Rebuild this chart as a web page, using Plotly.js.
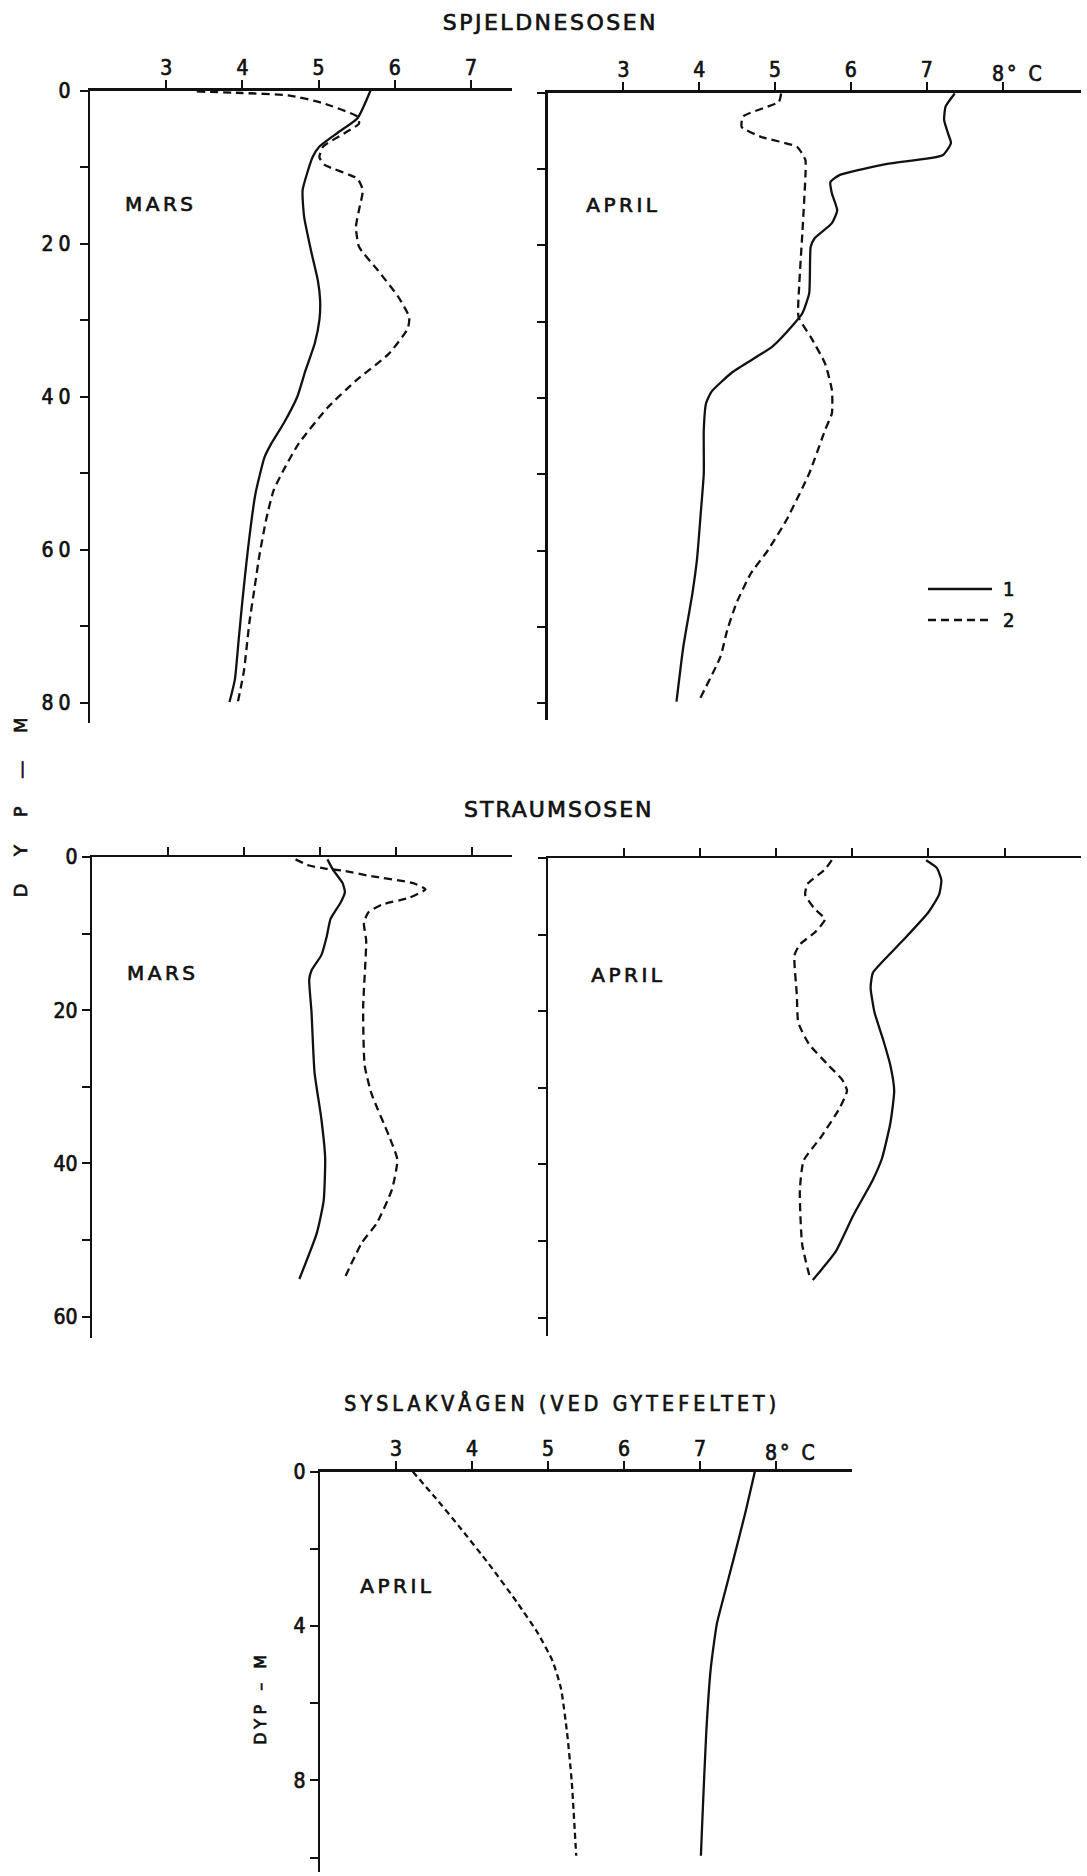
<!DOCTYPE html>
<html>
<head>
<meta charset="utf-8">
<script src="https://cdn.plot.ly/plotly-3.0.1.min.js"></script>
<style>
  html, body { margin: 0; padding: 0; background: #ffffff; }
  #chart { width: 1087px; height: 1876px; }
  /* heavier pen-drawn lettering */
  #chart text { stroke: #111111; stroke-width: 0.7px; }
  /* spaced lettering for station titles, month labels and axis captions */
  g.annotation[data-index="0"] text { letter-spacing: 2.5px; }
  g.annotation[data-index="1"] text { letter-spacing: 2px; }
  g.annotation[data-index="2"] text { letter-spacing: 4.2px; }
  g.annotation[data-index="3"] text,
  g.annotation[data-index="4"] text,
  g.annotation[data-index="5"] text,
  g.annotation[data-index="6"] text,
  g.annotation[data-index="7"] text { letter-spacing: 3.5px; }
  g.annotation[data-index="8"] text { letter-spacing: 11px; }
  g.annotation[data-index="9"] text { letter-spacing: 4.5px; }
  g.annotation[data-index="10"] text,
  g.annotation[data-index="11"] text { letter-spacing: 3px; }
  .ytick text { letter-spacing: 5px; }
</style>
</head>
<body>
<div id="chart"></div>
<script>
// Temperature (°C) against depth (m). Series 1 = solid, series 2 = dashed.

// Spjeldnesosen, March
const spjMarsDepth1 = [0, 3.6, 5.5, 7.3, 8.7, 13, 16.5, 20.9, 24.8, 27.4, 30, 33, 36.5, 40, 43.5, 46.1, 47.9, 52.7, 60.1, 66.6, 71.8, 77, 79.9];
const spjMarsTemp1  = [5.68, 5.51, 5.25, 5.01, 4.92, 4.79, 4.81, 4.90, 4.99, 5.02, 5.01, 4.95, 4.83, 4.72, 4.54, 4.38, 4.29, 4.17, 4.07, 4.00, 3.95, 3.90, 3.83];
const spjMarsDepth2 = [0.1, 0.3, 0.6, 1.6, 3.4, 4.3, 7.3, 8.7, 9.7, 11.5, 13, 15.6, 17.8, 20.4, 23.5, 27, 29.6, 31.1, 34.4, 37.8, 41.5, 46.1, 49.2, 52.2, 56.1, 60.9, 64.9, 69.6, 75.8, 79.9];
const spjMarsTemp2  = [3.40, 4.00, 4.60, 5.05, 5.51, 5.53, 5.06, 5.01, 5.08, 5.51, 5.58, 5.53, 5.49, 5.53, 5.78, 6.05, 6.19, 6.17, 5.92, 5.50, 5.11, 4.74, 4.56, 4.41, 4.31, 4.22, 4.16, 4.09, 4.02, 3.94];

// Spjeldnesosen, April
const spjAprDepth1 = [0.1, 1.8, 3.6, 5.3, 6.6, 8.2, 9.3, 10.8, 11.7, 13.2, 15.4, 17.1, 19.1, 20.2, 26.3, 28.9, 30.4, 33.3, 36.6, 39.2, 40.7, 44.2, 49.9, 55.1, 61.2, 65.6, 72.6, 79.8];
const spjAprTemp1  = [7.37, 7.25, 7.23, 7.28, 7.32, 7.21, 6.50, 5.85, 5.73, 5.75, 5.82, 5.75, 5.52, 5.47, 5.45, 5.36, 5.24, 4.96, 4.44, 4.16, 4.09, 4.06, 4.06, 4.02, 3.97, 3.91, 3.79, 3.70];
const spjAprDepth2 = [0.1, 1.2, 3.1, 4.5, 5.8, 7.1, 8.8, 11, 18.4, 25, 29.4, 32, 35.5, 39, 42, 44.2, 49.9, 56, 59.9, 63, 66.9, 70.4, 73.9, 79.6];
const spjAprTemp2  = [5.08, 5.05, 4.58, 4.56, 4.82, 5.29, 5.40, 5.40, 5.36, 5.32, 5.31, 5.47, 5.66, 5.75, 5.75, 5.66, 5.45, 5.15, 4.91, 4.68, 4.49, 4.37, 4.28, 4.00];

// Straumsosen, March
const strMarsDepth1 = [0.3, 1.6, 3.4, 4.6, 6.0, 8.1, 10.4, 12.8, 14.8, 16, 20.2, 28.1, 34.2, 39.3, 44.9, 49.1, 55.1];
const strMarsTemp1  = [5.10, 5.17, 5.30, 5.33, 5.27, 5.14, 5.09, 5.02, 4.89, 4.86, 4.89, 4.93, 5.02, 5.07, 5.05, 4.96, 4.73];
const strMarsDepth2 = [0.3, 1.1, 1.5, 1.8, 2.5, 3.4, 4.2, 5.3, 6.2, 7.2, 8.6, 10.9, 19.7, 27.2, 30.9, 36.4, 39.5, 43.4, 47.8, 50.4, 55.1];
const strMarsTemp2  = [4.68, 4.86, 5.07, 5.32, 5.68, 6.23, 6.39, 6.18, 5.82, 5.64, 5.58, 5.61, 5.57, 5.59, 5.68, 5.91, 6.02, 5.95, 5.75, 5.55, 5.32];

// Straumsosen, April
const strAprDepth1 = [0.3, 1.3, 2.9, 4.8, 7.1, 10.3, 13.4, 15, 16.9, 20.1, 23.9, 27.1, 30.4, 34.6, 39.2, 42, 46.7, 51.4, 55.1];
const strAprTemp1  = [6.97, 7.11, 7.17, 7.14, 7.00, 6.71, 6.41, 6.27, 6.24, 6.29, 6.41, 6.50, 6.55, 6.50, 6.39, 6.27, 6.01, 5.78, 5.48];
const strAprDepth2 = [0.3, 1.5, 3.4, 4.8, 6.6, 8.0, 9.6, 11.3, 12.7, 17.8, 21.5, 24.3, 27.1, 29, 30.4, 32.7, 36.4, 39.5, 43.4, 50.4, 55.1];
const strAprTemp2  = [5.73, 5.64, 5.41, 5.38, 5.50, 5.64, 5.52, 5.31, 5.24, 5.27, 5.29, 5.43, 5.69, 5.87, 5.93, 5.83, 5.59, 5.36, 5.31, 5.34, 5.45];

// Syslakvågen (spawning ground), April
const sysAprDepth1 = [0, 1.02, 2.26, 3.32, 3.94, 5.09, 6.77, 8.98, 9.95];
const sysAprTemp1  = [7.72, 7.60, 7.44, 7.30, 7.22, 7.14, 7.08, 7.03, 7.01];
const sysAprDepth2 = [0, 0.66, 1.42, 2.39, 3.41, 4.2, 4.91, 5.62, 6.77, 8.0, 9.95];
const sysAprTemp2  = [3.22, 3.51, 3.83, 4.22, 4.60, 4.87, 5.06, 5.17, 5.25, 5.31, 5.37];

// Axis ticks and labels
const tempTicksShort = [3, 4, 5, 6, 7];
const tempTicksLong  = [3, 4, 5, 6, 7, 8];
const tempLabelsShort = ['3', '4', '5', '6', '7'];
const tempLabelsLong  = ['3', '4', '5', '6', '7', ''];
const depthTicks80 = [0, 10, 20, 30, 40, 50, 60, 70, 80];
const depthLabels80 = ['0', '', '20', '', '40', '', '60', '', '80'];
const depthTicks60 = [0, 10, 20, 30, 40, 50, 60];
const depthLabels60 = ['0', '', '20', '', '40', '', '60'];
const depthTicks10 = [0, 2, 4, 6, 8, 10];
const depthLabels10 = ['0', '', '4', '', '8', ''];
const legendNames = ['1', '2'];
const unitLabel = '8° C';

const W = 1087, H = 1876;
const fx = v => v / W;
const fy = v => 1 - v / H;

const INK = '#111111';
const LETTER_FONT = 'DejaVu Sans, Liberation Sans, sans-serif';
const NARROW_FONT = 'DejaVu Sans Condensed, Liberation Sans Narrow, DejaVu Sans, sans-serif';
const DIGIT_FONT = 'Liberation Sans Narrow, DejaVu Sans Condensed, DejaVu Sans, sans-serif';

function curve(x, y, axisIdx, dashed, dashPattern) {
  const suffix = axisIdx === 1 ? '' : String(axisIdx);
  return {
    type: 'scatter', mode: 'lines', x: x, y: y,
    xaxis: 'x' + suffix, yaxis: 'y' + suffix,
    line: { color: INK, width: 2.3, shape: 'spline', smoothing: 0.5,
            dash: dashed ? dashPattern : 'solid' },
    showlegend: false, hoverinfo: 'skip'
  };
}

const traces = [
  curve(spjMarsTemp1, spjMarsDepth1, 1, false),
  curve(spjMarsTemp2, spjMarsDepth2, 1, true, '8px,5px'),
  curve(spjAprTemp1, spjAprDepth1, 2, false),
  curve(spjAprTemp2, spjAprDepth2, 2, true, '8px,5px'),
  curve(strMarsTemp1, strMarsDepth1, 3, false),
  curve(strMarsTemp2, strMarsDepth2, 3, true, '8px,5px'),
  curve(strAprTemp1, strAprDepth1, 4, false),
  curve(strAprTemp2, strAprDepth2, 4, true, '8px,5px'),
  curve(sysAprTemp1, sysAprDepth1, 5, false),
  curve(sysAprTemp2, sysAprDepth2, 5, true, '6px,4px')
];

const axisBase = {
  showline: true, linecolor: INK, linewidth: 2.3,
  ticks: 'outside', ticklen: 8, tickwidth: 2, tickcolor: INK,
  showgrid: false, zeroline: false, fixedrange: true,
  tickfont: { family: DIGIT_FONT, size: 21, color: INK }
};

function xAxis(domain, range, anchor, vals, text, labels) {
  return Object.assign({}, axisBase, {
    domain: domain, range: range, anchor: anchor, side: 'top',
    tickmode: 'array', tickvals: vals, ticktext: text,
    showticklabels: labels, ticklabelstandoff: -3
  });
}
function yAxis(domain, range, anchor, vals, text, labels) {
  return Object.assign({}, axisBase, {
    domain: domain, range: range, anchor: anchor,
    tickmode: 'array', tickvals: vals, ticktext: text,
    showticklabels: labels, ticklabelstandoff: 0
  });
}

function label(text, x, y, size, family, extra) {
  return Object.assign({
    text: text, xref: 'paper', yref: 'paper', x: fx(x), y: fy(y),
    xanchor: 'center', yanchor: 'middle', showarrow: false,
    font: { family: family, size: size, color: INK }
  }, extra || {});
}

const annotations = [
  label('SPJELDNESOSEN', 550, 22, 22, LETTER_FONT),
  label('STRAUMSOSEN', 559, 809, 22, LETTER_FONT),
  label('SYSLAKVÅGEN (VED GYTEFELTET)', 562, 1403, 21, NARROW_FONT),
  label('MARS', 161, 204, 20, LETTER_FONT),
  label('APRIL', 624, 205, 20, LETTER_FONT),
  label('MARS', 163, 973, 20, LETTER_FONT),
  label('APRIL', 629, 975, 20, LETTER_FONT),
  label('APRIL', 398, 1586, 20, LETTER_FONT),
  label('D Y P — M', 21, 802, 18, LETTER_FONT, { textangle: -90 }),
  label('DYP – M', 260, 1698, 16, LETTER_FONT, { textangle: -90 }),
  { text: unitLabel, xref: 'x2', yref: 'y2', x: 8, y: 0, xanchor: 'left', yanchor: 'bottom',
    xshift: -7, yshift: 5, showarrow: false, font: { family: DIGIT_FONT, size: 21, color: INK } },
  { text: unitLabel, xref: 'x5', yref: 'y5', x: 8, y: 0, xanchor: 'left', yanchor: 'bottom',
    xshift: -7, yshift: 5, showarrow: false, font: { family: DIGIT_FONT, size: 21, color: INK } },
  label(legendNames[0], 1008, 589, 20, DIGIT_FONT),
  label(legendNames[1], 1008, 620, 20, DIGIT_FONT)
];

// key lines for the two series
const shapes = [
  { type: 'line', xref: 'paper', yref: 'paper', x0: fx(928), x1: fx(992), y0: fy(589), y1: fy(589),
    line: { color: INK, width: 2.3 } },
  { type: 'line', xref: 'paper', yref: 'paper', x0: fx(928), x1: fx(992), y0: fy(620), y1: fy(620),
    line: { color: INK, width: 2.3, dash: '8px,5px' } }
];

const layout = {
  width: W, height: H,
  margin: { l: 0, r: 0, t: 0, b: 0, pad: 0 },
  paper_bgcolor: '#ffffff', plot_bgcolor: 'rgba(0,0,0,0)',
  showlegend: false,
  xaxis:  xAxis([fx(90.1), fx(512.1)], [2, 7.54], 'y',  tempTicksShort, tempLabelsShort, true),
  yaxis:  yAxis([fy(722.7), fy(90.7)], [82.6, 0], 'x',  depthTicks80, depthLabels80, true),
  xaxis2: xAxis([fx(547.6), fx(1080.6)], [2, 9.03], 'y2', tempTicksLong, tempLabelsLong, true),
  yaxis2: yAxis([fy(720), fy(92.7)], [82.2, 0], 'x2', depthTicks80, depthLabels80, false),
  xaxis3: xAxis([fx(92), fx(512)], [2, 7.53], 'y3', tempTicksShort, tempLabelsShort, false),
  yaxis3: yAxis([fy(1338), fy(857.1)], [62.8, 0], 'x3', depthTicks60, depthLabels60, true),
  xaxis4: xAxis([fx(548), fx(1080.6)], [2, 9.0], 'y4', tempTicksLong, tempLabelsLong, false),
  yaxis4: yAxis([fy(1336), fy(857.9)], [62.4, 0], 'x4', depthTicks60, depthLabels60, false),
  xaxis5: xAxis([fx(320), fx(852.2)], [2, 9.0], 'y5', tempTicksLong, tempLabelsLong, true),
  yaxis5: yAxis([fy(1871.6), fy(1471.6)], [10.36, 0], 'x5', depthTicks10, depthLabels10, true),
  annotations: annotations,
  shapes: shapes
};

Plotly.newPlot('chart', traces, layout, { staticPlot: true, displayModeBar: false });
</script>
</body>
</html>
